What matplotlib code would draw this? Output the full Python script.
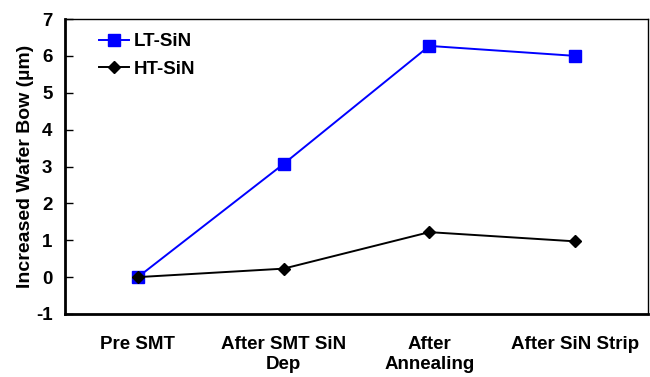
import matplotlib.pyplot as plt

plt.rcParams['font.family'] = ['Liberation Sans', 'DejaVu Sans']
plt.rcParams['font.weight'] = 'bold'
plt.rcParams['axes.unicode_minus'] = False

# data
stages = ["Pre SMT", "After SMT SiN\nDep", "After\nAnnealing", "After SiN Strip"]
lt_sin = [0.0, 3.07, 6.27, 6.0]
ht_sin = [0.0, 0.23, 1.22, 0.97]

fig = plt.figure(figsize=(6.5, 3.77), dpi=100)
ax = fig.add_axes([65 / 650, 63 / 377, 583 / 650, 295 / 377])

x = range(len(stages))
ax.plot(x, lt_sin, color='blue', marker='s', markersize=8, linewidth=1.4, label='LT-SiN')
ax.plot(x, ht_sin, color='black', marker='D', markersize=6.5, linewidth=1.4, label='HT-SiN')

ax.set_xlim(-0.5, 3.5)
ax.set_ylim(-1, 7)
ax.set_yticks(range(-1, 8))
ax.set_xticks(list(x))
ax.set_xticklabels(stages, fontsize=13.5, fontweight='bold', linespacing=1.2)
ax.tick_params(axis='x', length=0, pad=16)
ax.tick_params(axis='y', direction='in', length=6, width=1, labelsize=13.5, pad=9)
for lbl in ax.get_yticklabels():
    lbl.set_fontweight('bold')

ax.set_ylabel("Increased Wafer Bow (µm)", fontsize=14, fontweight='bold', labelpad=1)

for side in ['left', 'bottom']:
    ax.spines[side].set_linewidth(2)
for side in ['top', 'right']:
    ax.spines[side].set_linewidth(1)

leg = ax.legend(loc='upper left', bbox_to_anchor=(0.045, 0.978), frameon=False,
                fontsize=13.5, handlelength=1.6, handletextpad=0.25,
                borderaxespad=0.0, labelspacing=0.55)
for t in leg.get_texts():
    t.set_fontweight('bold')

fig.savefig('out.png', dpi=100)
